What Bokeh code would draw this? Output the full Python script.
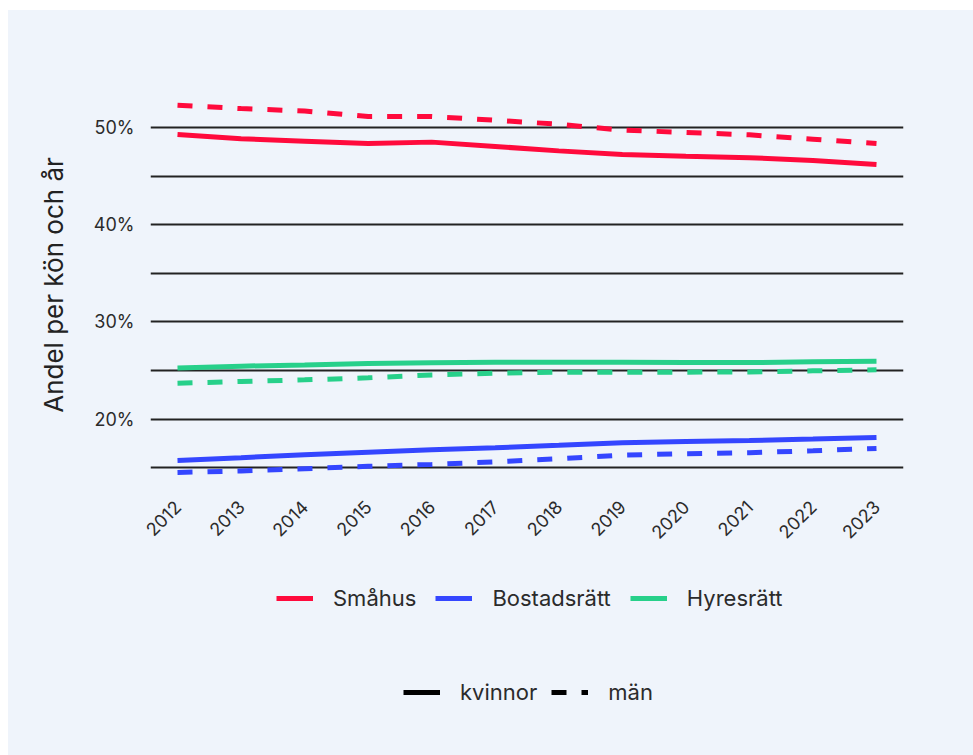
from bokeh.plotting import figure
from bokeh.models import FixedTicker, Legend, LegendItem, ColumnDataSource, Spacer
from bokeh.layouts import column, row
from bokeh.embed import file_html
from bokeh.resources import INLINE
import math

years = [2012, 2013, 2014, 2015, 2016, 2017, 2018, 2019, 2020, 2021, 2022, 2023]
smahus_kvinnor = [49.28, 48.84, 48.6, 48.36, 48.5, 48.05, 47.6, 47.23, 47.05, 46.9, 46.6, 46.2]
smahus_man = [52.3, 51.95, 51.7, 51.13, 51.13, 50.75, 50.34, 49.73, 49.5, 49.25, 48.8, 48.36]
hyres_kvinnor = [25.27, 25.45, 25.58, 25.72, 25.8, 25.86, 25.86, 25.86, 25.82, 25.82, 25.9, 25.96]
hyres_man = [23.7, 23.87, 24.04, 24.25, 24.55, 24.73, 24.83, 24.83, 24.83, 24.86, 24.97, 25.07]
bostad_kvinnor = [15.75, 16.03, 16.34, 16.6, 16.85, 17.05, 17.3, 17.57, 17.7, 17.8, 17.95, 18.12]
bostad_man = [14.52, 14.66, 14.9, 15.14, 15.34, 15.6, 15.92, 16.3, 16.44, 16.54, 16.75, 16.99]

y_ticks = [15, 20, 25, 30, 35, 40, 45, 50]
y_labels = {15: "", 20: "20%", 25: "", 30: "30%", 35: "", 40: "40%", 45: "", 50: "50%"}

series_names = ["Småhus", "Bostadsrätt", "Hyresrätt"]
gender_names = ["kvinnor", "män"]

RED = "#FF0A3C"
BLUE = "#3446FF"
GREEN = "#27D08A"
BG = "#EFF4FB"
TXT = "#2B2B2B"
FONT = "Inter"
DASH = "15 15"

p = figure(width=965, height=545, output_backend="svg", toolbar_location=None,
           x_range=(2011.575, 2023.425), y_range=(14.2, 53.4),
           min_border_left=142, min_border_right=70, min_border_top=84, min_border_bottom=80)
p.background_fill_alpha = 0
p.border_fill_color = BG
p.outline_line_color = None

p.xgrid.grid_line_color = None
p.ygrid.grid_line_color = "#222222"
p.ygrid.grid_line_width = 2

p.yaxis.ticker = FixedTicker(ticks=y_ticks)
p.yaxis.major_label_overrides = y_labels
p.xaxis.ticker = FixedTicker(ticks=years)
for ax in (p.xaxis, p.yaxis):
    ax.axis_line_color = None
    ax.major_tick_line_color = None
    ax.minor_tick_line_color = None
    ax.major_tick_out = 0
    ax.major_tick_in = 0
    ax.minor_tick_out = 0
    ax.minor_tick_in = 0
    ax.major_label_text_color = TXT
    ax.major_label_text_font = FONT
    ax.major_label_text_font_size = "18px"
p.yaxis.major_label_standoff = 16
p.xaxis.major_label_standoff = 28
p.xaxis.major_label_orientation = math.pi / 4
p.yaxis.axis_label = "Andel per kön och år"
p.yaxis.axis_label_text_font = FONT
p.yaxis.axis_label_text_font_size = "26px"
p.yaxis.axis_label_text_font_style = "normal"
p.yaxis.axis_label_text_color = "#222222"
p.yaxis.axis_label_standoff = 22

src = ColumnDataSource(dict(year=years, sk=smahus_kvinnor, sm=smahus_man,
                            hk=hyres_kvinnor, hm=hyres_man,
                            bk=bostad_kvinnor, bm=bostad_man))
p.line("year", "sk", source=src, line_color=RED, line_width=5)
p.line("year", "sm", source=src, line_color=RED, line_width=5, line_dash=DASH)
p.line("year", "bk", source=src, line_color=BLUE, line_width=5)
p.line("year", "bm", source=src, line_color=BLUE, line_width=5, line_dash=DASH)
p.line("year", "hk", source=src, line_color=GREEN, line_width=5)
p.line("year", "hm", source=src, line_color=GREEN, line_width=5, line_dash=DASH)

# Legend strip below the chart (its frame is aligned with the chart frame by the column layout)
q = figure(width=965, height=200, output_backend="svg", toolbar_location=None,
           x_range=(0, 1), y_range=(0, 1), x_axis_location=None, y_axis_location=None,
           min_border=0)
q.background_fill_alpha = 0
q.border_fill_color = BG
q.outline_line_color = None
q.grid.grid_line_color = None
nan = float("nan")
lr = [q.line([nan], [nan], line_color=c, line_width=5) for c in (RED, BLUE, GREEN)]
g_solid = q.line([nan], [nan], line_color="black", line_width=5)
g_dash = q.line([nan], [nan], line_color="black", line_width=5, line_dash=DASH)

def make_legend(items, loc, spacing):
    return Legend(items=items, location=loc, orientation="horizontal",
                  glyph_width=37, glyph_height=20, label_height=20,
                  label_standoff=20, spacing=spacing,
                  padding=0, margin=0, border_line_color=None, background_fill_alpha=0,
                  label_text_font=FONT, label_text_font_size="22px", label_text_color=TXT)

leg1 = make_legend([LegendItem(label=n, renderers=[r]) for n, r in zip(series_names, lr)], (126, 144), 19)
leg2 = make_legend([LegendItem(label=gender_names[0], renderers=[g_solid]),
                    LegendItem(label=gender_names[1], renderers=[g_dash])], (253, 50), 14)
q.add_layout(leg1, "center")
q.add_layout(leg2, "center")

inner = column(p, q, spacing=0, styles={"background-color": BG})
layout = column(Spacer(height=10), row(Spacer(width=8), inner), spacing=0)
open("out.html", "w").write(file_html(layout, INLINE))
